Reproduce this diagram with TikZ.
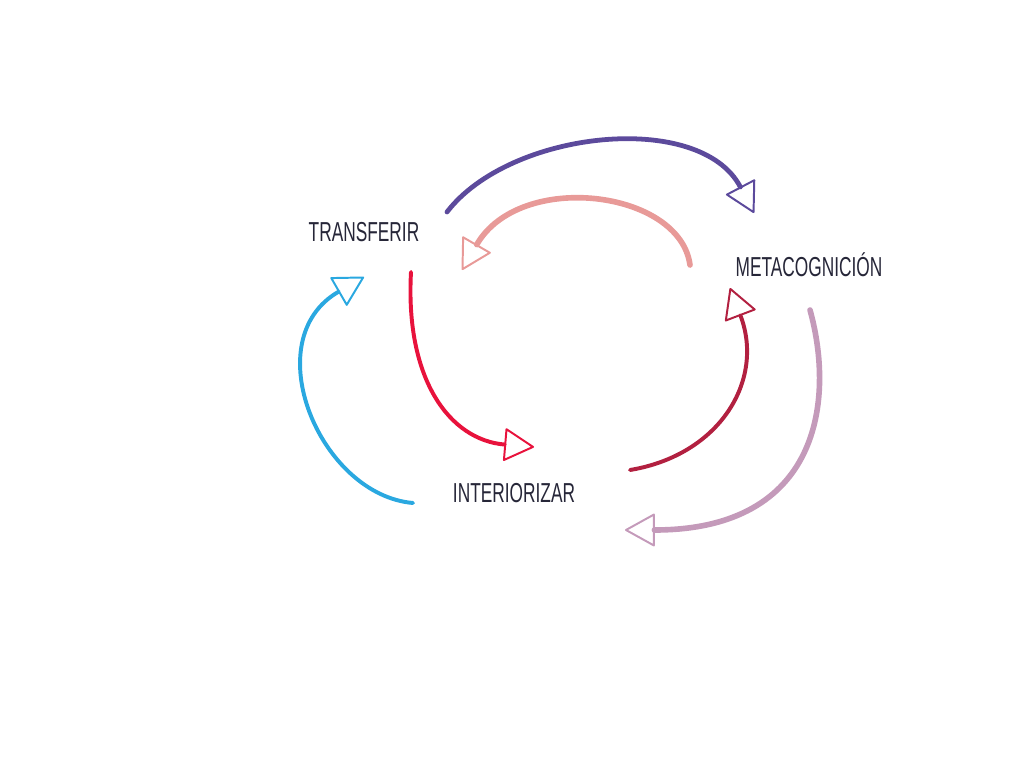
\documentclass[tikz,border=0pt]{standalone}
\usepackage{fontspec}
\usepackage{graphicx}
\setmainfont{Liberation Sans}
\usetikzlibrary{arrows.meta, calc}
\definecolor{tinta}{RGB}{38, 38, 56}
\definecolor{morado}{RGB}{92, 74, 156}
\definecolor{rosa}{RGB}{232, 154, 152}
\definecolor{rojo}{RGB}{232, 18, 60}
\definecolor{granate}{RGB}{178, 32, 64}
\definecolor{malva}{RGB}{196, 154, 186}
\definecolor{celeste}{RGB}{42, 168, 224}
\newcommand{\rotulo}[1]{\scalebox{0.82}[1.3]{#1}}

\begin{document}
\begin{tikzpicture}[
                x=0.025cm, y=-0.025cm,
                etiqueta/.style={
                    font=\fontsize{15}{18}\selectfont,
                    text=tinta,
                    inner sep=2pt
                },
                flecha/.style={
                    line width=2.8pt,
                    line cap=round,
                    -{Triangle[open, length=22pt, width=24pt, line width'=1.4pt, round]}
                }
            ]
                \useasboundingbox (0,0) rectangle (1024,768);
                \node[etiqueta] (tr) at (364,232) {\rotulo{TRANSFERIR}};
                \node[etiqueta] (mc) at (809,265) {\rotulo{METACOGNICIÓN}};
                \node[etiqueta] (in) at (514,493) {\rotulo{INTERIORIZAR}};
                % ciclo exterior
                \draw[flecha, morado, line width=3.4pt] ($(tr)+(83,-20)$) .. controls (510,130) and (700,110) .. ($(mc)+(-55,-52)$);
                \draw[flecha, malva, line width=4pt] ($(mc)+(1,45)$) .. controls (835,400) and (820,530) .. ($(in)+(111,37)$);
                \draw[flecha, celeste] ($(in)+(-101,10)$) .. controls (320,495) and (255,340) .. ($(tr)+(0,45)$);
                % ciclo interior
                \draw[flecha, rosa, line width=4pt] ($(mc)+(-119,0)$) .. controls (680,190) and (520,170) .. ($(tr)+(98,38)$);
                \draw[flecha, rojo] ($(tr)+(47,40)$) .. controls (405,380) and (450,440) .. ($(in)+(20,-46)$);
                \draw[flecha, granate] ($(in)+(116,-23)$) .. controls (720,455) and (765,380) .. ($(mc)+(-79,23)$);
            \end{tikzpicture}
\end{document}
